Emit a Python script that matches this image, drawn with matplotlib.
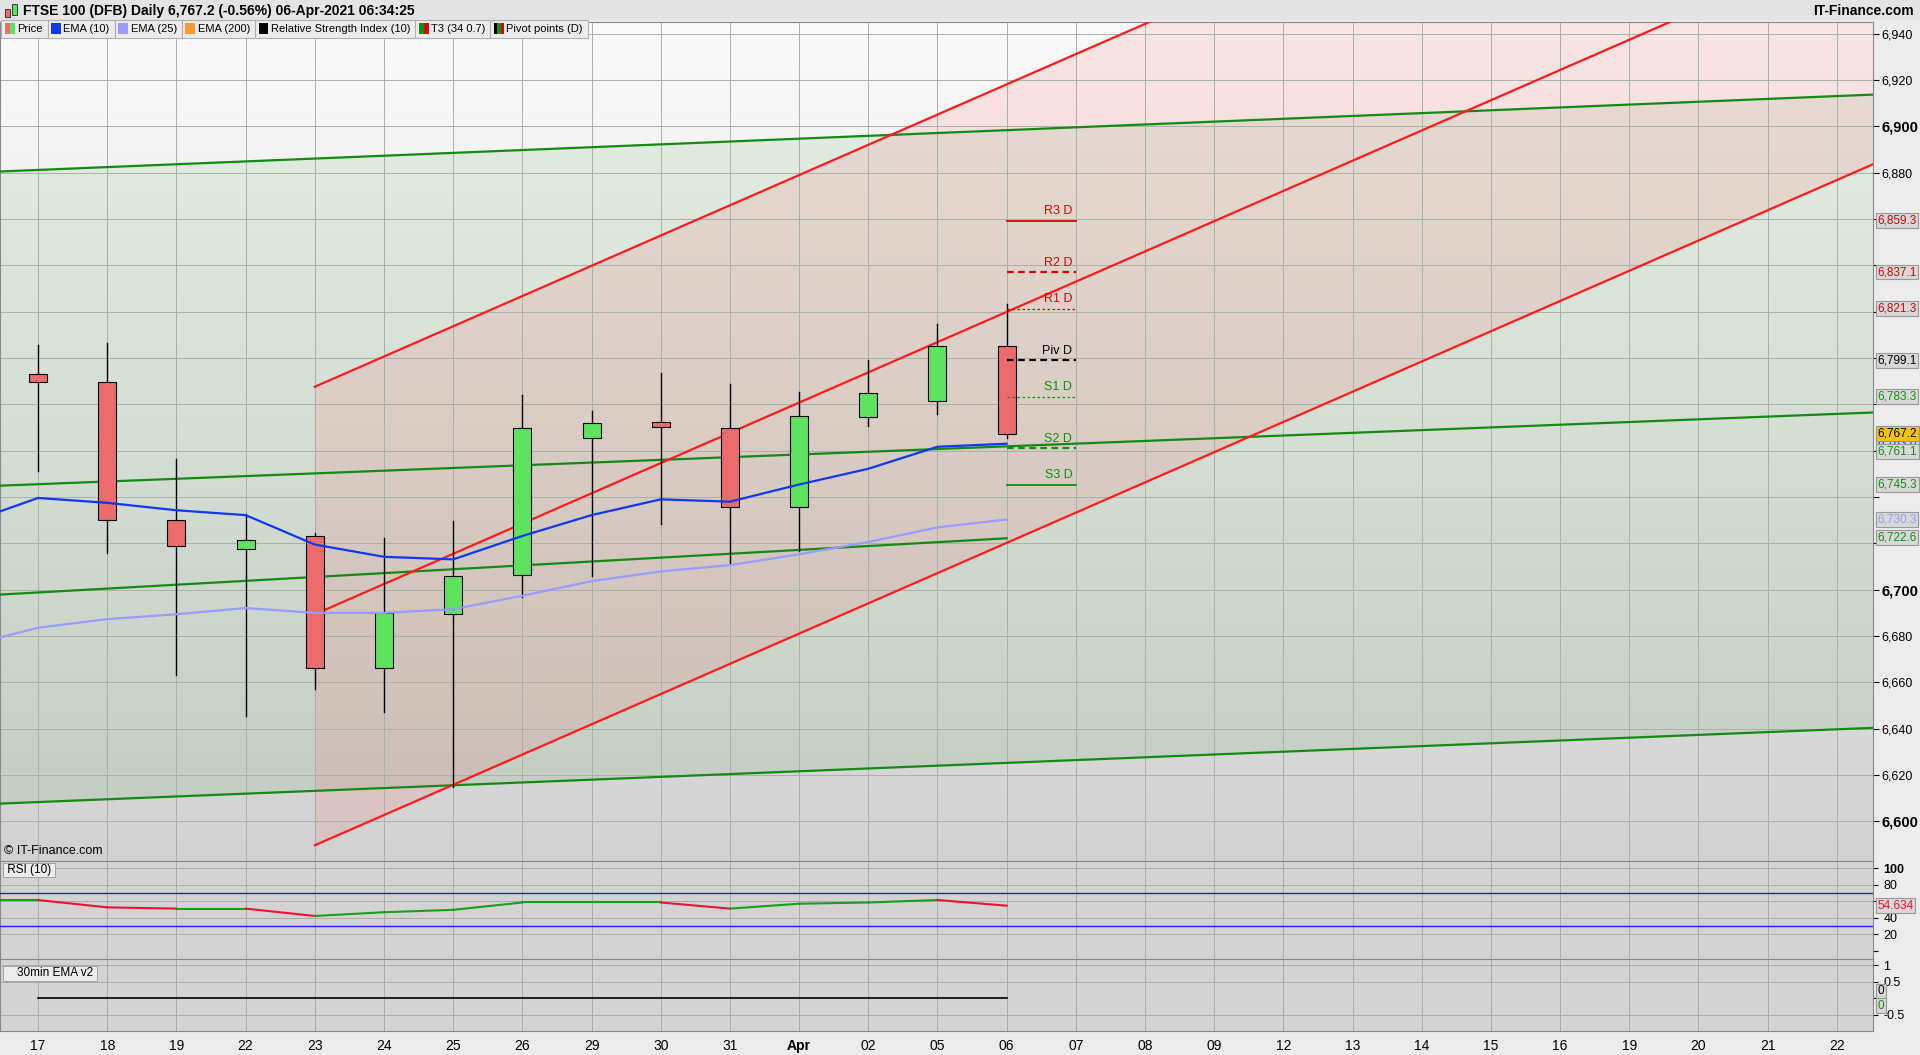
import numpy as np
import matplotlib
matplotlib.use("Agg")
import matplotlib.pyplot as plt
from matplotlib.patches import Rectangle
from matplotlib.colors import LinearSegmentedColormap

plt.rcParams['font.family'] = ['Liberation Sans', 'DejaVu Sans']

# ---------------- data ----------------
dates = ['17','18','19','22','23','24','25','26','29','30','31','Apr','02','05','06',
         '07','08','09','12','13','14','15','16','19','20','21','22']
opens  = [6792.9,6789.7,6730.1,6717.4,6723.2,6666.2,6689.4,6706.3,6765.4,6772.3,6769.7,6735.9,6774.4,6781.3,6805.0]
highs  = [6805.5,6806.6,6756.5,6732.7,6724.3,6722.2,6729.6,6783.9,6777.0,6793.4,6788.7,6785.5,6799.2,6814.5,6823.5]
lows   = [6751.2,6715.8,6663.0,6645.6,6657.3,6647.2,6615.0,6696.8,6705.8,6728.5,6711.6,6716.9,6770.7,6776.0,6765.4]
closes = [6789.7,6730.1,6719.0,6721.6,6666.2,6690.0,6705.8,6769.7,6771.8,6770.2,6735.9,6774.9,6785.0,6805.0,6767.2]
ema10_start = 6733.8
ema10 = [6739.6,6737.5,6734.3,6732.2,6719.5,6714.2,6713.1,6723.2,6732.2,6739.0,6738.0,6745.4,6752.2,6761.7,6763.0]
ema25_start = 6679.4
ema25 = [6683.6,6687.3,6689.4,6692.1,6690.0,6690.0,6691.6,6697.4,6703.7,6707.9,6710.6,6715.3,6720.6,6726.9,6730.3]
rsi_start = 61.5
rsi = [61.5,52.6,51.1,51.1,42.2,46.7,49.6,58.5,58.5,58.5,51.1,57.0,58.5,61.5,54.634]
rsi_levels = [70, 30]
green_top = [6880.5, 6913.7]
green_mid = [6744.9, 6776.5]
green_bot = [6607.7, 6640.4]
green_short = [6697.9, 6722.2]
red_start = 4
red_slope = 13.05
red_offsets = [6787.6, 6689.4, 6589.7]
pivot_names = ['R3 D','R2 D','R1 D','Piv D','S1 D','S2 D','S3 D']
pivot_vals = [6859.3,6837.1,6821.3,6799.1,6783.3,6761.1,6745.3]
price_ticks = list(range(6600, 6941, 20))
ema30 = [0.0]*15

# ---------------- figure ----------------
W, H = 1920, 1055
fig = plt.figure(figsize=(W/100, H/100), dpi=100, facecolor='#ececec')
S = 1.2245
def fy(y):
    return 1 - y*S/H
right = 1530*S/W
ax = fig.add_axes([0, fy(703), right, fy(18)-fy(703)])
ax2 = fig.add_axes([0, fy(783), right, fy(703)-fy(783)], sharex=ax)
ax3 = fig.add_axes([0, fy(842), right, fy(783)-fy(842)], sharex=ax)

xmin, xmax = -0.55, 26.53
ymin, ymax = 6583, 6945
n = len(closes)
idx = np.arange(n)

grad = np.linspace(0, 1, 256).reshape(-1, 1)
cm = LinearSegmentedColormap.from_list('g', ['#d2d2d2', '#fafafa'])
ax.imshow(grad, aspect='auto', cmap=cm, extent=[xmin, xmax, ymin, ymax], origin='lower', zorder=0)
for a in (ax2, ax3):
    a.set_facecolor('#d3d3d3')

xs = np.array([xmin, xmax])
ax.fill_between(xs, green_bot, green_top, color='#3c9a3c', alpha=0.10, lw=0, zorder=1)
for g in (green_top, green_mid, green_bot):
    ax.plot(xs, g, color='#138a13', lw=1.6, zorder=4)
ax.plot([xmin, n-1], green_short, color='#138a13', lw=1.6, zorder=4)

rx = np.array([red_start, xmax])
up = red_offsets[0] + red_slope*(rx-red_start)
lo = red_offsets[2] + red_slope*(rx-red_start)
ax.fill_between(rx, lo, up, color='#ff5050', alpha=0.12, lw=0, zorder=1)
for off in red_offsets:
    ax.plot(rx, off + red_slope*(rx-red_start), color='#ff1a1a', lw=1.6, zorder=4)

for i in range(len(dates)):
    ax.axvline(i, color='#a8b0a8', lw=0.7, zorder=2)
    ax2.axvline(i, color='#aaaaaa', lw=0.7, zorder=1)
    ax3.axvline(i, color='#aaaaaa', lw=0.7, zorder=1)
for t in price_ticks:
    ax.axhline(t, color='#a8b0a8', lw=0.7, zorder=2)

for i in range(n):
    o, h, l, c = opens[i], highs[i], lows[i], closes[i]
    fc = '#5de35d' if c >= o else '#ec6b6b'
    ax.plot([i, i], [l, h], color='black', lw=1, zorder=5)
    ax.add_patch(Rectangle((i-0.13, min(o, c)), 0.26, max(abs(c-o), 0.8),
                           facecolor=fc, edgecolor='black', lw=0.8, zorder=6))

ax.plot([xmin]+list(idx), [ema10_start]+ema10, color='#1038f0', lw=1.6, zorder=7)
ax.plot([xmin]+list(idx), [ema25_start]+ema25, color='#9a9aff', lw=1.6, zorder=7)

styles = [('#e00000','-',1.3),('#e00000',(0,(3,2)),1.6),('#e00000',(0,(2,2)),0.9),
          ('black',(0,(3,2)),1.6),('#109010',(0,(2,2)),0.9),('#109010',(0,(3,2)),1.6),('#109010','-',1.3)]
for name, v, (col, ls, lw) in zip(pivot_names, pivot_vals, styles):
    ax.plot([n-1, n], [v, v], color=col, ls=ls, lw=lw, zorder=8)
    ax.text(n-0.05, v+1.5, name, color=col, fontsize=9, ha='right', va='bottom', zorder=9)

ax.set_xlim(xmin, xmax)
ax.set_ylim(ymin, ymax)
ax.yaxis.tick_right()
ax.set_yticks(price_ticks)
box_vals = [6859.3,6837.1,6821.3,6799.1,6783.3,6767.2,6763.0,6761.1,6745.3,6730.3,6722.6]
labels = []
for t in price_ticks:
    labels.append('' if min(abs(t-b) for b in box_vals) < 6 else f'{t:,}')
ax.set_yticklabels(labels, fontsize=9)
for lab, t in zip(ax.get_yticklabels(), price_ticks):
    if t % 100 == 0:
        lab.set_fontweight('bold'); lab.set_fontsize(10.5)
ax.tick_params(axis='y', length=4, pad=2)
ax.tick_params(axis='x', bottom=False, labelbottom=False)

def box(a, v, txt, col, fc='#d8d8d8'):
    a.annotate(txt, xy=(1.0, v), xycoords=('axes fraction', 'data'), xytext=(3, 0),
               textcoords='offset points', va='center', ha='left', fontsize=8.5, color=col,
               bbox=dict(boxstyle='square,pad=0.12', fc=fc, ec='#999999', lw=0.8),
               annotation_clip=False, zorder=20)

box(ax, 6859.3, '6,859.3', '#e00000')
box(ax, 6837.1, '6,837.1', '#e00000')
box(ax, 6821.3, '6,821.3', '#e00000')
box(ax, 6799.1, '6,799.1', 'black')
box(ax, 6783.3, '6,783.3', '#109010')
box(ax, 6763.0, '6,763.0', '#1038f0')
box(ax, 6767.6, '6,767.2', 'black', fc='#f5c400')
box(ax, 6759.5, '6,761.1', '#109010')
box(ax, 6745.3, '6,745.3', '#109010')
box(ax, 6730.3, '6,730.3', '#9a9aff')
box(ax, 6722.6, '6,722.6', '#109010')

ax.text(0.002, 0.005, '© IT-Finance.com', transform=ax.transAxes, fontsize=9, va='bottom')

items = [('Price', ['#ec6b6b', '#5de35d']), ('EMA (10)', ['#1038f0']), ('EMA (25)', ['#9a9aff']),
         ('EMA (200)', ['#ff9a30']), ('Relative Strength Index (10)', ['black']),
         ('T3 (34 0.7)', ['#109010', '#e00000']), ('Pivot points (D)', ['black', '#109010', '#e00000'])]
xpx = 1
ypx = 16
for name, cols in items:
    t = fig.text(0, 0, name, fontsize=8, va='center', zorder=12)
    fig.canvas.draw()
    tw = t.get_window_extent().width / S
    w = 17 + tw
    t.set_position(((xpx+13)*S/W, fy(ypx+7.5)))
    fig.patches.append(Rectangle((xpx*S/W, fy(ypx+15)), w*S/W, 15*S/H, transform=fig.transFigure,
                                 fc='#ececec', ec='#b0b0b0', lw=0.8, zorder=10))
    sw = 8/len(cols)
    for k, c in enumerate(cols):
        fig.patches.append(Rectangle(((xpx+3+k*sw)*S/W, fy(ypx+12)), sw*S/W, 9*S/H,
                                     transform=fig.transFigure, fc=c, lw=0, zorder=11))
    xpx += w

fig.patches.append(Rectangle((0, fy(16)), 1, 16*S/H, transform=fig.transFigure, fc='#e4e4e4', lw=0, zorder=0))
fig.patches.append(Rectangle((4*S/W, fy(14)), 4*S/W, 7*S/H, transform=fig.transFigure, fc='#ec6b6b', ec='black', lw=0.5))
fig.patches.append(Rectangle((10*S/W, fy(12)), 4*S/W, 9*S/H, transform=fig.transFigure, fc='#5de35d', ec='black', lw=0.5))
fig.text(19*S/W, fy(9), 'FTSE 100 (DFB) Daily 6,767.2 (-0.56%) 06-Apr-2021 06:34:25',
         fontsize=10, fontweight='bold', va='center')
fig.text(0.997, fy(9), 'IT-Finance.com', fontsize=10, fontweight='bold', va='center', ha='right')

rx_ = [xmin]+list(idx)
rv = [rsi_start]+rsi
for i in range(len(rx_)-1):
    col = '#18a018' if rv[i+1] >= rv[i] else '#f01030'
    ax2.plot(rx_[i:i+2], rv[i:i+2], color=col, lw=1.5, zorder=5)
for lv in rsi_levels:
    ax2.axhline(lv, color='#2020e0', lw=1, zorder=4)
ax2.set_ylim(-9.6, 108.9)
ax2.yaxis.tick_right()
ax2.set_yticks([0, 20, 40, 60, 80, 100])
ax2.set_yticklabels(['', '20', '40', '', '80', '100'], fontsize=9)
ax2.get_yticklabels()[-1].set_fontweight('bold')
for t in [20, 40, 60, 80, 100]:
    ax2.axhline(t, color='#aaaaaa', lw=0.7, zorder=1)
ax2.tick_params(axis='x', bottom=False, labelbottom=False)
box(ax2, rsi[-1], '54.634', '#f01030')
ax2.text(0.002, 0.97, ' RSI (10) ', transform=ax2.transAxes, fontsize=8.5, va='top',
         bbox=dict(boxstyle='square,pad=0.1', fc='#ececec', ec='#999999', lw=0.6))

ax3.plot(idx, ema30, color='black', lw=1.2, zorder=5)
ax3.set_ylim(-0.99, 1.19)
ax3.yaxis.tick_right()
ax3.set_yticks([-0.5, 0, 0.5, 1])
ax3.set_yticklabels(['-0.5', '', '0.5', '1'], fontsize=9)
for t in [-0.5, 0.5, 1]:
    ax3.axhline(t, color='#aaaaaa', lw=0.7, zorder=1)
box(ax3, 0.22, '0', 'black')
box(ax3, -0.22, '0', '#109010')
ax3.text(0.002, 0.88, '    30min EMA v2 ', transform=ax3.transAxes, fontsize=8.5, va='top',
         bbox=dict(boxstyle='square,pad=0.1', fc='#ececec', ec='#999999', lw=0.6))
ax3.set_xticks(range(len(dates)))
ax3.set_xticklabels(dates, fontsize=10)
ax3.get_xticklabels()[11].set_fontweight('bold')
ax3.tick_params(axis='x', length=0, pad=6)

for a in (ax, ax2, ax3):
    for s in a.spines.values():
        s.set_color('#888888'); s.set_linewidth(0.8)

fig.savefig('out.png', dpi=100, facecolor=fig.get_facecolor())
